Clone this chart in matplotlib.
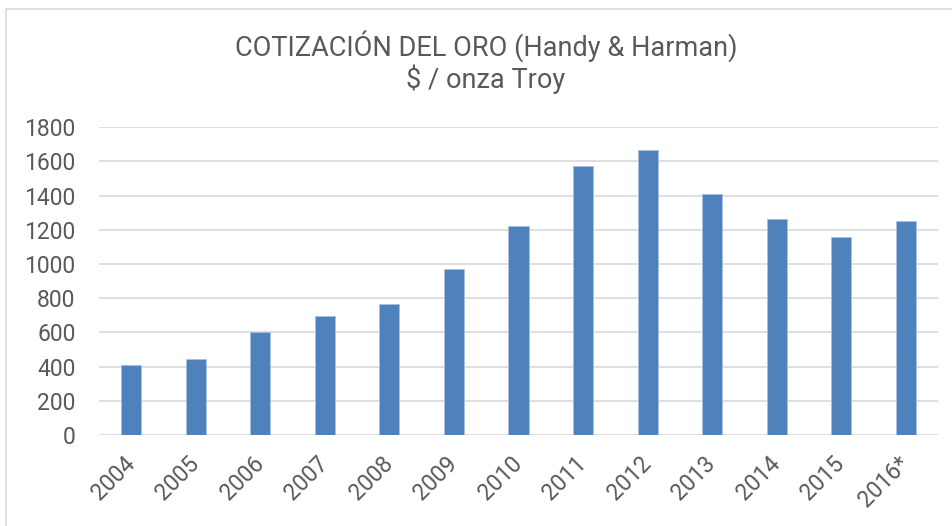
import matplotlib.pyplot as plt
from matplotlib.patches import Rectangle

years = ["2004", "2005", "2006", "2007", "2008", "2009", "2010",
         "2011", "2012", "2013", "2014", "2015", "2016*"]
prices = [409, 444, 604, 695, 765, 972, 1225, 1572, 1669, 1411, 1266, 1160, 1251]
yticks = [0, 200, 400, 600, 800, 1000, 1200, 1400, 1600, 1800]

plt.rcParams['font.family'] = ['Roboto', 'DejaVu Sans']
text_col = '#595959'

fig = plt.figure(figsize=(9.53, 5.26), dpi=100)
ax = fig.add_axes([99 / 953, 1 - 435 / 526, (938 - 99) / 953, (435 - 127.3) / 526])

x = range(len(years))
ax.bar(x, prices, width=0.31, color='#4f81bd', edgecolor='#a9c1e0', linewidth=0.6, zorder=3)

ax.set_xlim(-0.5, len(years) - 0.5)
ax.set_ylim(0, 1800)
ax.set_yticks(yticks)
ax.set_yticklabels([str(v) for v in yticks], fontsize=16.5, color=text_col)
ax.set_xticks(list(x))
ax.set_xticklabels(years, fontsize=16.5, color=text_col, rotation=45,
                   ha='right', va='center', rotation_mode='anchor')
ax.tick_params(axis='both', length=0)
ax.tick_params(axis='y', pad=17)
ax.tick_params(axis='x', pad=18)
ax.grid(axis='y', color='#d9d9d9', linewidth=1.2, zorder=0)
for s in ax.spines.values():
    s.set_visible(False)

# titulo en dos lineas
fig.text(486 / 953, 1 - 46 / 526, "COTIZACIÓN DEL ORO (Handy & Harman)",
         ha='center', va='center', fontsize=19.5, color=text_col)
fig.text(486 / 953, 1 - 79 / 526, "$ / onza Troy",
         ha='center', va='center', fontsize=19.5, color=text_col)

fig.patches.append(Rectangle((6 / 953, -0.1), 1.2, 1 - 9 / 526 + 0.1,
                             transform=fig.transFigure, fill=False,
                             edgecolor='#d9d9d9', linewidth=1.2))

fig.savefig('out.png', dpi=100)
